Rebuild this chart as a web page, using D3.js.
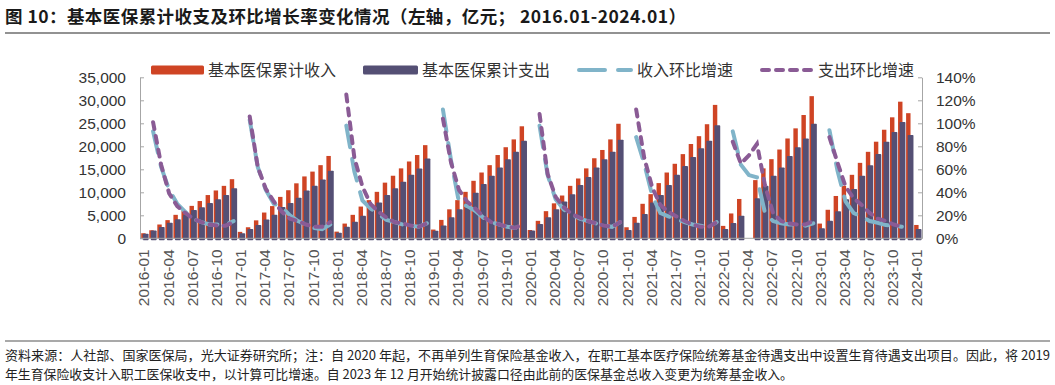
<!DOCTYPE html>
<html>
<head>
<meta charset="utf-8">
<script src="https://cdn.jsdelivr.net/npm/d3@7"></script>
<style>
  body { margin: 0; background: #fff; }
  text { font-family: "Liberation Sans", "Noto Sans CJK SC", sans-serif; }
  .cjk { font-family: "Noto Sans CJK SC", sans-serif; }
</style>
</head>
<body>
<script>
const w = 1055;
const h = 385;

// Data (亿元, %)

const years = [2016, 2017, 2018, 2019, 2020, 2021, 2022, 2023];
const months = [];
years.forEach((y) => d3.range(1, 13).forEach((m) => months.push(y + "-" + String(m).padStart(2, "0"))));
months.push("2024-01");

const income = [
  1100, 1750, 3000, 3950, 5100, 6050, 7050, 8100, 9400, 10400, 11400, 12850,
  1400, 2400, 3900, 5600, 7000, 9000, 10450, 11950, 13450, 14500, 15900, 17900,
  1450, 3200, 5100, 6900, 8300, 10100, 12100, 13600, 15200, 16700, 18100, 20250,
  1900, 4000, 6300, 8300, 10100, 12500, 14300, 15900, 18100, 19800, 21500, 24350,
  1800, 3800, 5900, 7600, 9300, 11400, 13000, 15200, 17400, 19200, 21500, 24900,
  2400, 4650, 7500, 9600, 12000, 14300, 16200, 18300, 20500, 22200, 24800, 29000,
  2700, 5400, 8550, null, 12650, 15200, 17200, 19300, 21700, 23900, 26800, 30900,
  3200, 6200, 9200, 11400, 13800, 16400, 18800, 21000, 23600, 26300, 29700, 27200,
  2900
];

const expense = [
  1000, 1720, 2480, 3400, 4150, 5100, 6150, 6750, 7700, 8500, 9400, 10900,
  1100, 2000, 2900, 4100, 5100, 6800, 7700, 8800, 10400, 11400, 12800, 14700,
  1200, 2500, 3600, 4900, 6300, 7800, 9400, 10900, 12300, 13800, 15200, 17350,
  1650, 2800, 4600, 6300, 7600, 9900, 11800, 13600, 15400, 17200, 18800, 21200,
  1700, 3100, 4600, 6300, 8000, 9600, 11600, 13300, 15400, 17200, 18800, 21450,
  1800, 3400, 5300, 7800, 9400, 11600, 13800, 15700, 17700, 19600, 21200, 24600,
  2000, 3300, 4900, null, 8700, 11400, 13600, 15400, 17900, 19800, 21700, 24900,
  2200, 3800, 5900, 8500, 10700, 13600, 15900, 18300, 21000, 23100, 25300, 22450,
  2000
];

const incomeGrowth = [
  null, 93, 62, 42, 30, 23, 17, 14, 12, 12, 12, 15,
  null, 103, 62, 42, 30, 27, 20, 15, 12, 9, 8, 12,
  null, 98, 58, 33, 26, 21, 16, 14, 12, 11, 10, 13,
  null, 112, 68, 31, 28, 24, 18, 14, 12, 10, 9, 13,
  null, 98, 55, 34, 25, 21, 17, 15, 13, 11, 10, 14,
  null, 88, 65, 37, 22, 19, 17, 14, 12, 11, 10, 14,
  null, 93, 64, 55, 53, 22, 15, 13, 12, 12, 11, 13,
  null, 94, 59, 32, 22, 19, 15, 13.5, 11.5, 11, 10, null,
  null
];

const expenseGrowth = [
  null, 101, 64, 39, 28, 22, 17, 14, 12, 11, 11, 14,
  null, 106, 62, 43, 32, 23, 17, 15, 12, 10, 10, 14,
  null, 125, 70, 45, 30, 23, 18, 14, 13, 11, 10, 13,
  null, 104, 66, 42, 32, 26, 19, 14, 12, 10, 9, 13,
  null, 108, 56, 36, 27, 21, 18, 15, 13, 11, 10, 14,
  null, 112, 70, 44, 29, 23, 19, 15, 12, 10, 10, 14,
  null, 84, 65, 72, 82, 46, 22, 15, 13, 12, 12, 15,
  null, 88, 66, 45, 35, 29, 22, 17, 15, 12, 10, null,
  null
];

const leftTicks = d3.range(0, 35001, 5000);
const rightTicks = d3.range(0, 141, 20);
const labelMonths = months.filter((d, i) => i % 3 === 0);

const seriesNames = ["基本医保累计收入", "基本医保累计支出", "收入环比增速", "支出环比增速"];
const colors = ["#cf4424", "#544f74", "#80b4c9", "#8a5b95"];

// SVG

const svg = d3.select("body").append("svg").attr("width", w).attr("height", h);

// Title

svg.append("text").attr("class", "cjk").attr("x", 5).attr("y", 23)
  .attr("font-size", 17.5).attr("font-weight", 700).attr("fill", "#1a1a1a")
  .attr("textLength", 681).attr("lengthAdjust", "spacing")
  .text("图 10：基本医保累计收支及环比增长率变化情况（左轴，亿元； 2016.01-2024.01）");

svg.append("line").attr("x1", 5).attr("x2", 1050).attr("y1", 33).attr("y2", 33)
  .attr("stroke", "#6e6e6e").attr("stroke-width", 1.5);

// Scales

const x = d3.scaleBand().domain(months).range([141, 922]).padding(0);
const y = d3.scaleLinear().domain([0, 35000]).range([238.3, 77.3]);
const y2 = d3.scaleLinear().domain([0, 140]).range([238.3, 77.3]);

// Bars

const bw = x.bandwidth();

svg.append("g").selectAll("rect")
  .data(months.map((m, i) => ({ m, v: income[i] })).filter((d) => d.v != null))
  .join("rect")
  .attr("x", (d) => x(d.m) + 0.2)
  .attr("width", bw * 0.55)
  .attr("y", (d) => y(d.v))
  .attr("height", (d) => y(0) - y(d.v))
  .attr("fill", colors[0]);

svg.append("g").selectAll("rect")
  .data(months.map((m, i) => ({ m, v: expense[i] })).filter((d) => d.v != null))
  .join("rect")
  .attr("x", (d) => x(d.m) + bw * 0.22)
  .attr("width", bw * 0.72)
  .attr("y", (d) => y(d.v))
  .attr("height", (d) => y(0) - y(d.v) + 2)
  .attr("rx", 0.8)
  .attr("fill", colors[1]);

// Axes

const axisColor = "#a6a6a6";

svg.append("line").attr("x1", 140).attr("x2", 922).attr("y1", y(0)).attr("y2", y(0))
  .attr("stroke", axisColor).attr("stroke-width", 1);

const gl = svg.append("g").attr("transform", "translate(140,0)")
  .call(d3.axisLeft(y).tickValues(leftTicks).tickFormat(d3.format(",")).tickSizeInner(-4).tickSizeOuter(0).tickPadding(14));
const gr = svg.append("g").attr("transform", "translate(922,0)")
  .call(d3.axisRight(y2).tickValues(rightTicks).tickFormat((d) => d + "%").tickSizeInner(-4).tickSizeOuter(0).tickPadding(14));

[gl, gr].forEach((g) => {
  g.select(".domain").attr("stroke", axisColor);
  g.selectAll(".tick line").attr("stroke", axisColor);
  g.selectAll(".tick text").attr("font-size", 15.5).attr("fill", "#333")
    .attr("font-family", "Liberation Sans, sans-serif");
});

const gx = svg.append("g").attr("transform", `translate(0,${y(0)})`)
  .call(d3.axisBottom(x).tickValues(labelMonths).tickSize(0).tickPadding(0));
gx.select(".domain").remove();
gx.selectAll(".tick text")
  .attr("font-size", 15.5).attr("fill", "#555")
  .attr("font-family", "Liberation Sans, sans-serif")
  .attr("text-anchor", "end")
  .attr("transform", "translate(-1,11) rotate(-90)")
  .attr("dy", "0.35em")
  .attr("y", 0);

// Lines

const line = d3.line()
  .defined((d) => d.v != null)
  .x((d) => x(d.m) + bw / 2)
  .y((d) => y2(d.v));

svg.append("path")
  .datum(months.map((m, i) => ({ m, v: incomeGrowth[i] })))
  .attr("d", line).attr("fill", "none")
  .attr("stroke", colors[2]).attr("stroke-width", 4)
  .attr("stroke-linecap", "round").attr("stroke-dasharray", "22,12");

svg.append("path")
  .datum(months.map((m, i) => ({ m, v: expenseGrowth[i] })))
  .attr("d", line).attr("fill", "none")
  .attr("stroke", colors[3]).attr("stroke-width", 4)
  .attr("stroke-linecap", "round").attr("stroke-dasharray", "7,7");

// Legend

const legend = svg.append("g").attr("class", "cjk");
const lx = [151, 363, 577, 760];

legend.append("rect").attr("x", lx[0]).attr("y", 65.5).attr("width", 53).attr("height", 9)
  .attr("rx", 1.5).attr("fill", colors[0]);
legend.append("rect").attr("x", lx[1]).attr("y", 65.5).attr("width", 55).attr("height", 9)
  .attr("rx", 1.5).attr("fill", colors[1]);
legend.append("line").attr("x1", lx[2] + 2).attr("x2", lx[2] + 54).attr("y1", 70).attr("y2", 70)
  .attr("stroke", colors[2]).attr("stroke-width", 4).attr("stroke-linecap", "round")
  .attr("stroke-dasharray", "26,13");
legend.append("line").attr("x1", lx[3] + 2).attr("x2", lx[3] + 52).attr("y1", 70).attr("y2", 70)
  .attr("stroke", colors[3]).attr("stroke-width", 4).attr("stroke-linecap", "round")
  .attr("stroke-dasharray", "7,7");

const textX = [208, 422, 637, 818];
legend.selectAll("text.lg").data(seriesNames).join("text")
  .attr("class", "lg cjk")
  .attr("x", (d, i) => textX[i]).attr("y", 70).attr("dy", "0.36em")
  .attr("font-size", 16).attr("fill", "#333")
  .text((d) => d);

// Footnote

svg.append("line").attr("x1", 5).attr("x2", 1050).attr("y1", 341).attr("y2", 341)
  .attr("stroke", "#8c8c8c").attr("stroke-width", 1.5);

const notes = [
  "资料来源：人社部、国家医保局，光大证券研究所；注：自 2020 年起，不再单列生育保险基金收入，在职工基本医疗保险统筹基金待遇支出中设置生育待遇支出项目。因此，将 2019",
  "年生育保险收支计入职工医保收支中，以计算可比增速。自 2023 年 12 月开始统计披露口径由此前的医保基金总收入变更为统筹基金收入。"
];
const noteLen = [1045, 788];

svg.selectAll("text.note").data(notes).join("text")
  .attr("class", "note cjk")
  .attr("x", 5).attr("y", (d, i) => 360 + i * 19)
  .attr("font-size", 12.7).attr("fill", "#222")
  .attr("textLength", (d, i) => noteLen[i]).attr("lengthAdjust", "spacingAndGlyphs")
  .text((d) => d);
</script>
</body>
</html>
